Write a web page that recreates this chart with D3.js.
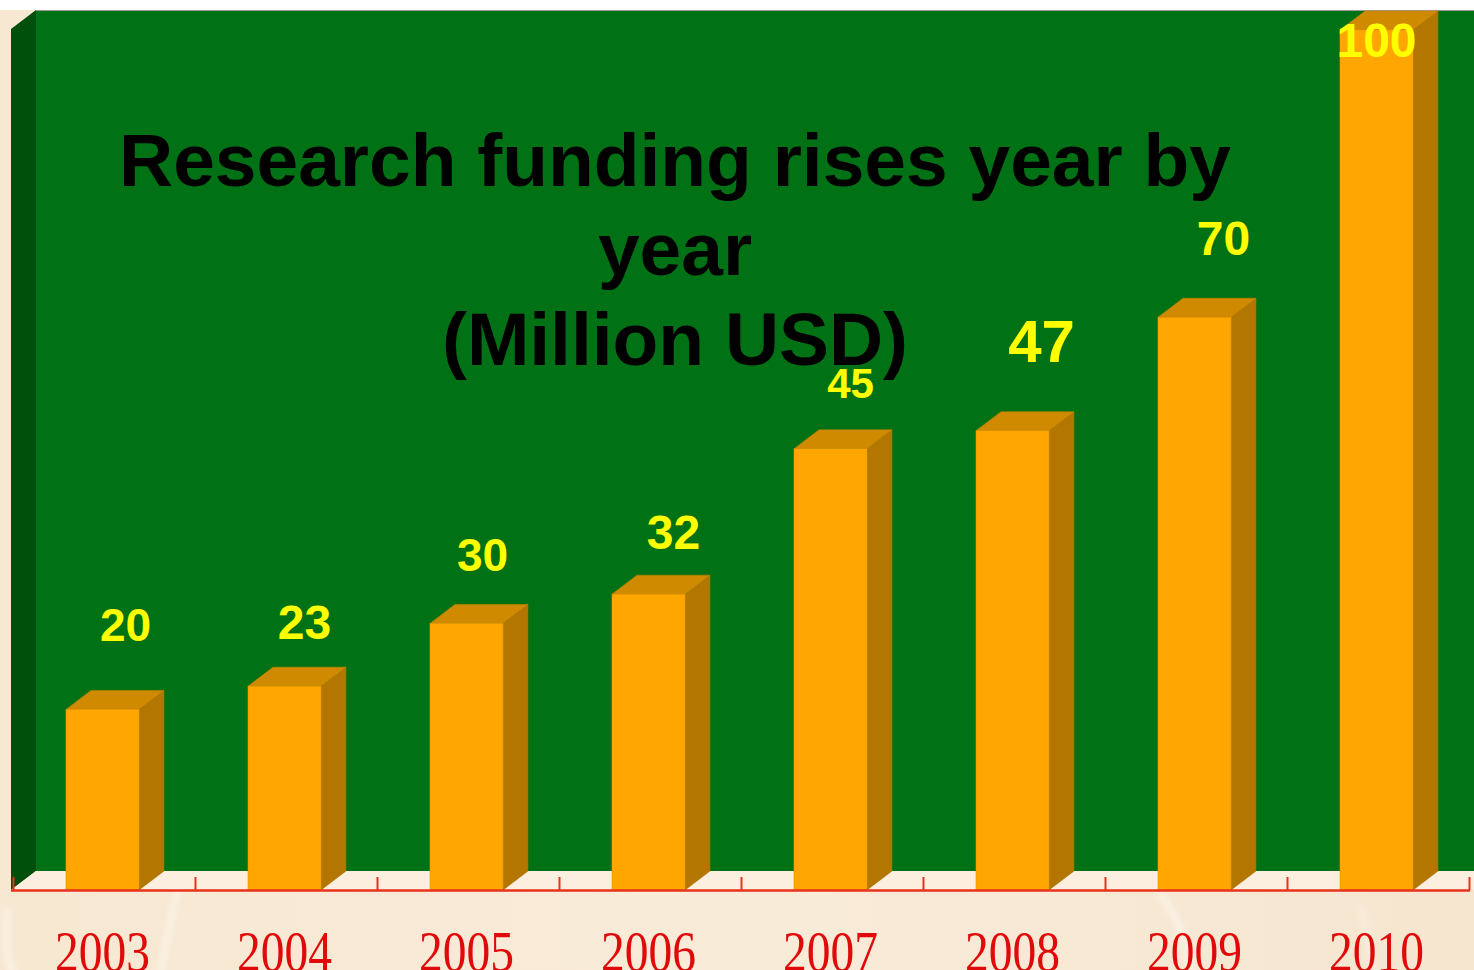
<!DOCTYPE html>
<html>
<head>
<meta charset="utf-8">
<script src="https://cdn.jsdelivr.net/npm/d3@7"></script>
<style>
  html, body { margin: 0; padding: 0; background: #ffffff; overflow: hidden; }
  svg { display: block; }
</style>
</head>
<body>
<svg id="chart" width="1474" height="970"></svg>
<script>
// ---- data ----
const years = ["2003", "2004", "2005", "2006", "2007", "2008", "2009", "2010"];
// bar heights as drawn (million USD)
const values = [21.0, 23.7, 31.0, 34.4, 51.3, 53.4, 66.6, 100];
// value labels as printed above the bars
const valueLabels = ["20", "23", "30", "32", "45", "47", "70", "100"];
const titleLines = ["Research funding rises year by", "year", "(Million USD)"];
const yDomain = [0, 100];

// ---- layout (hand-placed label tweaks from the original slide) ----
const labelLift = [49, 28, 33, 26, 32, 50, 43, -46];
const labelShift = [23, 20, 16, 25, 20, 29, 29, 0];
const labelSize = [46, 48, 46, 48, 42, 60, 48, 48];

const W = 1474, H = 970;
const svg = d3.select("#chart");
const axisY = 890, wallLeft = 36, sideLeft = 11, wallTop = 10;
const depthX = 25, depthY = 19;
const barOffset = 53, barW = 73;

const x = d3.scaleBand().domain(years).range([13, 1469]).padding(0);
const y = d3.scaleLinear().domain(yDomain).range([axisY, 30]);
const tickScale = d3.scaleLinear().domain([0, years.length]).range([13, 1469]);

// background
const defs = svg.append("defs");
const bg = defs.append("linearGradient").attr("id", "bg").attr("x1", 0).attr("y1", 0).attr("x2", 1).attr("y2", 0);
bg.append("stop").attr("offset", "0").attr("stop-color", "#f7e8d2");
bg.append("stop").attr("offset", "0.5").attr("stop-color", "#f8ebd8");
bg.append("stop").attr("offset", "1").attr("stop-color", "#f6e6d0");
const blur = defs.append("filter").attr("id", "blur").attr("x", "-50%").attr("y", "-50%").attr("width", "200%").attr("height", "200%");
blur.append("feGaussianBlur").attr("stdDeviation", 3);

svg.append("rect").attr("x", 0).attr("y", 0).attr("width", W).attr("height", H).attr("fill", "url(#bg)");
svg.append("rect").attr("x", 0).attr("y", 0).attr("width", W).attr("height", wallTop).attr("fill", "#ffffff");

// faint light streaks in the backdrop
const streaks = svg.append("g").attr("filter", "url(#blur)").attr("fill", "none")
  .attr("stroke", "#ffffff").attr("stroke-opacity", 0.55).attr("stroke-width", 5);
streaks.append("path").attr("d", "M8,910 C4,940 6,960 14,975");
streaks.append("path").attr("d", "M180,880 C170,920 166,945 160,975");
streaks.append("path").attr("d", "M1160,895 C1180,920 1188,945 1190,975");
streaks.append("path").attr("d", "M1360,905 C1366,930 1372,950 1374,975").attr("stroke-opacity", 0.3);

// back wall
svg.append("rect").attr("x", wallLeft).attr("y", wallTop).attr("width", W - wallLeft).attr("height", axisY - depthY - wallTop)
  .attr("fill", "#007114");
svg.append("line").attr("x1", wallLeft).attr("x2", W).attr("y1", wallTop + 0.5).attr("y2", wallTop + 0.5)
  .attr("stroke", "#9a9a9a").attr("stroke-width", 1);
// side wall
svg.append("path")
  .attr("d", `M${sideLeft},${wallTop + depthY} L${wallLeft},${wallTop} L${wallLeft},${axisY - depthY} L${sideLeft},${axisY} Z`)
  .attr("fill", "#004f0b");
// floor
svg.append("path")
  .attr("d", `M${sideLeft},${axisY} L${wallLeft},${axisY - depthY} L${W},${axisY - depthY} L${W},${axisY} Z`)
  .attr("fill", "#fcefdf");

// bars
const bars = svg.append("g").selectAll("g").data(years).join("g");
bars.each(function (d, i) {
  const g = d3.select(this);
  const x0 = x(d) + barOffset, x1 = x0 + barW;
  const yt = y(values[i]);
  // side
  g.append("path")
    .attr("d", `M${x1},${yt} L${x1 + depthX},${yt - depthY} L${x1 + depthX},${axisY - depthY} L${x1},${axisY} Z`)
    .attr("fill", "#b37600").attr("stroke", "#a86e00").attr("stroke-width", 0.6);
  // top
  g.append("path")
    .attr("d", `M${x0},${yt} L${x0 + depthX},${yt - depthY} L${x1 + depthX},${yt - depthY} L${x1},${yt} Z`)
    .attr("fill", "#cf8a00").attr("stroke", "#c48200").attr("stroke-width", 0.6);
  // front
  g.append("rect").attr("x", x0).attr("y", yt).attr("width", barW).attr("height", axisY - yt)
    .attr("fill", "#ffa700").attr("stroke", "#e89600").attr("stroke-width", 0.6);
});

// axis (ticks pointing up, at category boundaries)
const axis = svg.append("g").attr("transform", `translate(0,${axisY})`)
  .call(d3.axisTop(tickScale).tickValues(d3.range(years.length + 1)).tickFormat("").tickSize(13).tickSizeOuter(0));
axis.select(".domain").attr("stroke", "#e8321c").attr("stroke-width", 2.5).attr("d", `M${sideLeft},0.5H1470`);
axis.selectAll(".tick line").attr("stroke", "#e8321c").attr("stroke-width", 2);

// year labels
svg.append("g").selectAll("text").data(years).join("text")
  .attr("x", d => x(d) + barOffset + barW / 2)
  .attr("y", 971)
  .attr("text-anchor", "middle")
  .attr("font-family", "'Liberation Serif', 'Times New Roman', serif")
  .attr("font-size", 57)
  .attr("textLength", 95)
  .attr("lengthAdjust", "spacingAndGlyphs")
  .attr("fill", "#e00a0a")
  .text(d => d);

// title
const title = svg.append("g").attr("font-family", "'Liberation Sans', Arial, sans-serif")
  .attr("font-weight", "bold").attr("fill", "#000").attr("text-anchor", "middle");
const baselines = [186, 275, 365];
const tl = title.selectAll("text").data(titleLines).join("text")
  .attr("x", 675).attr("y", (d, i) => baselines[i]).attr("font-size", 75).text(d => d);
const w0 = tl.nodes()[0].getComputedTextLength();
const fs = 75 * 1112 / w0;
tl.attr("font-size", fs);

// value labels
svg.append("g").selectAll("text").data(years).join("text")
  .attr("x", (d, i) => x(d) + barOffset + barW / 2 + labelShift[i])
  .attr("y", (d, i) => y(values[i]) - depthY - labelLift[i])
  .attr("text-anchor", "middle")
  .attr("font-family", "'Liberation Sans', Arial, sans-serif")
  .attr("font-weight", "bold")
  .attr("font-size", (d, i) => labelSize[i])
  .attr("fill", "#ffff00")
  .text((d, i) => valueLabels[i]);
</script>
</body>
</html>
